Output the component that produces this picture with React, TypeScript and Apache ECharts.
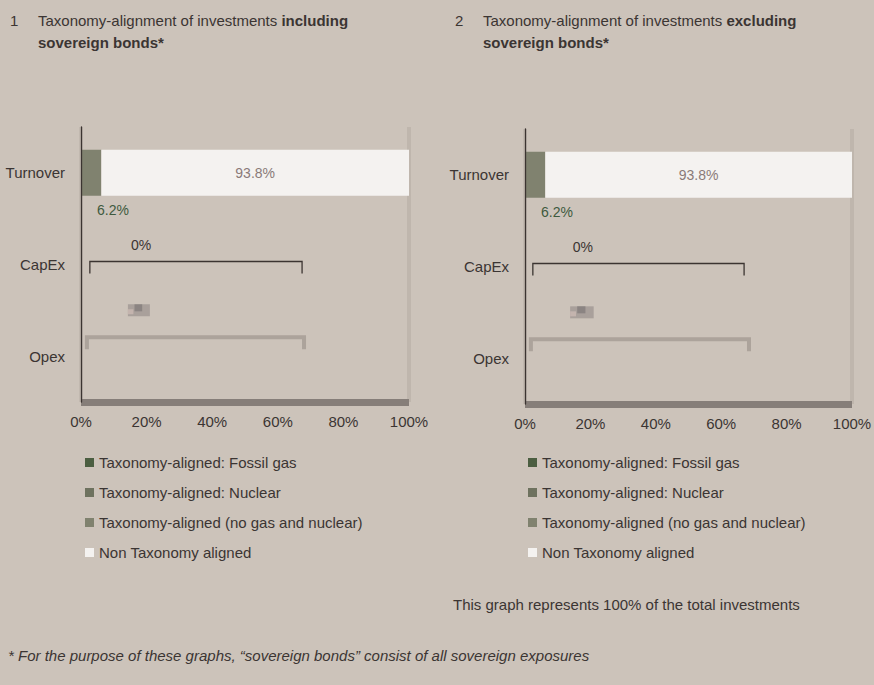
import React, { useEffect, useRef } from "react";
import * as echarts from "echarts";

const categories = ["Turnover", "CapEx", "Opex"];
const fossilGas = [0, null, null];
const nuclear = [0, null, null];
const alignedNoGasNuclear = [6.2, null, null];
const nonAligned = [93.8, null, null];
const xTicks = [0, 20, 40, 60, 80, 100];

// annotations: [start %, end %, category index, kind(0 capex bracket,1 opex bracket,2 blurred mark), label x %]
const annotationsLeft = [
  [2.7, 67.4, 1, 0, 18.3],
  [1.8, 68, 2, 1, 0],
  [14.3, 21, 1, 2, 0],
];
const annotationsRight = [
  [2.4, 67, 1, 0, 17.7],
  [1.8, 68.5, 2, 1, 0],
  [13.8, 21, 1, 2, 0],
];
const bracketLabel = "0%";

const seriesNames = [
  "Taxonomy-aligned: Fossil gas",
  "Taxonomy-aligned: Nuclear",
  "Taxonomy-aligned (no gas and nuclear)",
  "Non Taxonomy aligned",
];
const seriesColors = ["#4b5e41", "#6e725f", "#80826f", "#f4f2f0"];

const FONT = "'Liberation Sans', Arial, sans-serif";
const TXT = "#3b3533";
const FS = 15;

function buildSeries(idx: number) {
  const values = [fossilGas, nuclear, alignedNoGasNuclear, nonAligned];
  const bars = values.map((v, i) => ({
    type: "bar",
    name: seriesNames[i],
    stack: "total" + idx,
    xAxisIndex: idx,
    yAxisIndex: idx,
    barWidth: 46,
    data: v,
    itemStyle: { color: seriesColors[i] },
    label:
      i === 2
        ? {
            show: true,
            position: [16, "100%"],
            distance: 0,
            offset: [0, 7],
            formatter: (p: any) => (p.value ? p.value + "%" : ""),
            color: "#3e5a3e",
            fontSize: FS - 1,
            fontFamily: FONT,
          }
        : i === 3
        ? {
            show: true,
            position: "inside",
            formatter: (p: any) => (p.value ? p.value + "%" : ""),
            color: "#8a7a78",
            fontSize: FS - 1,
            fontFamily: FONT,
          }
        : { show: false },
  }));
  const custom = {
    type: "custom",
    xAxisIndex: idx,
    yAxisIndex: idx,
    z: 5,
    silent: true,
    encode: { x: [0, 1], y: 2 },
    data: idx === 0 ? annotationsLeft : annotationsRight,
    renderItem: (params: any, api: any) => {
      const kind = api.value(3);
      const cat = api.value(2);
      const p1 = api.coord([api.value(0), cat]);
      const p2 = api.coord([api.value(1), cat]);
      const band = api.size([0, 1])[1];
      if (kind === 0) {
        const y = p1[1] - 3;
        const lx = api.coord([api.value(4), cat])[0];
        return {
          type: "group",
          children: [
            {
              type: "polyline",
              shape: { points: [[p1[0], y + 12], [p1[0], y], [p2[0], y], [p2[0], y + 12]] },
              style: { stroke: "#3b3431", lineWidth: 1.3, fill: null },
            },
            {
              type: "text",
              x: lx,
              y: y - 17,
              style: {
                text: bracketLabel,
                fill: TXT,
                font: `${FS - 1}px ${FONT}`,
                align: "center",
                verticalAlign: "middle",
              },
            },
          ],
        };
      }
      if (kind === 1) {
        const y = p1[1] - 19;
        return {
          type: "polyline",
          shape: { points: [[p1[0], y + 12], [p1[0], y], [p2[0], y], [p2[0], y + 12]] },
          style: { stroke: "#aca39b", lineWidth: 4, fill: null },
        };
      }
      const y = p1[1] + band / 2;
      const w = p2[0] - p1[0];
      return {
        type: "group",
        children: [
          { type: "rect", shape: { x: p1[0], y: y - 6, width: w, height: 12 }, style: { fill: "#a9a09b" } },
          { type: "rect", shape: { x: p1[0] + w * 0.3, y: y - 6, width: w * 0.35, height: 7 }, style: { fill: "#8b8482" } },
          { type: "rect", shape: { x: p1[0], y: y - 1, width: w * 0.25, height: 5 }, style: { fill: "#c4b4ae" } },
        ],
      };
    },
  };
  return [...bars, custom];
}

function xAxis(idx: number) {
  return {
    type: "value",
    gridIndex: idx,
    min: 0,
    max: 100,
    interval: 20,
    axisLine: { show: true, lineStyle: { color: "#867e79", width: 7, cap: "butt" } },
    axisTick: { show: false },
    axisLabel: {
      formatter: (v: number) => (xTicks.includes(v) ? v + "%" : ""),
      color: TXT,
      fontSize: FS,
      fontFamily: FONT,
      margin: 12,
    },
    splitLine: {
      show: true,
      lineStyle: {
        color: ["#c1b8af", "rgba(0,0,0,0)", "rgba(0,0,0,0)", "rgba(0,0,0,0)", "rgba(0,0,0,0)", "#bfb6ad"],
        width: 4,
      },
    },
  };
}

function yAxis(idx: number) {
  return {
    type: "category",
    gridIndex: idx,
    data: categories,
    inverse: true,
    z: 10,
    axisLine: { show: true, lineStyle: { color: "#3b3431", width: 1.3 } },
    axisTick: { show: false },
    axisLabel: { color: TXT, fontSize: FS, fontFamily: FONT, margin: 16 },
  };
}

function legend(left: number) {
  return {
    orient: "vertical",
    left,
    top: 450,
    itemWidth: 9,
    itemHeight: 9,
    itemGap: 15,
    icon: "rect",
    selectedMode: false,
    data: seriesNames,
    textStyle: { color: TXT, fontSize: FS, fontFamily: FONT },
  };
}

function titleText(x: number, num: string, word: string) {
  return [
    {
      type: "text",
      x: x,
      y: 20,
      style: { text: num, fill: TXT, font: `${FS}px ${FONT}`, verticalAlign: "middle" },
    },
    {
      type: "text",
      x: x + 28,
      y: 20,
      style: {
        text: "Taxonomy-alignment of investments {b|" + word + "}",
        fill: TXT,
        font: `${FS}px ${FONT}`,
        verticalAlign: "middle",
        rich: { b: { fontWeight: "bold", fontSize: FS, fontFamily: FONT, fill: TXT } },
      },
    },
    {
      type: "text",
      x: x + 28,
      y: 42,
      style: {
        text: "sovereign bonds*",
        fill: TXT,
        font: `bold ${FS}px ${FONT}`,
        verticalAlign: "middle",
      },
    },
  ];
}

export default function App() {
  const ref = useRef<HTMLDivElement>(null);
  useEffect(() => {
    if (!ref.current) return;
    const chart = echarts.init(ref.current, null, { renderer: "svg" });
    chart.setOption({
      animation: false,
      backgroundColor: "#ccc3ba",
      textStyle: { fontFamily: FONT },
      grid: [
        { left: 81, top: 127, width: 328, height: 275, outerBoundsMode: "none", containLabel: false },
        { left: 525, top: 129, width: 327, height: 275, outerBoundsMode: "none", containLabel: false },
      ],
      xAxis: [xAxis(0), xAxis(1)],
      yAxis: [yAxis(0), yAxis(1)],
      legend: [legend(80), legend(523)],
      series: [...buildSeries(0), ...buildSeries(1)],
      graphic: [
        ...titleText(10, "1", "including"),
        ...titleText(455, "2", "excluding"),
        {
          type: "text",
          x: 453,
          y: 604,
          style: {
            text: "This graph represents 100% of the total investments",
            fill: TXT,
            font: `${FS}px ${FONT}`,
            verticalAlign: "middle",
          },
        },
        {
          type: "text",
          x: 8,
          y: 655,
          style: {
            text: "* For the purpose of these graphs, \u201csovereign bonds\u201d consist of all sovereign exposures",
            fill: TXT,
            font: `italic ${FS}px ${FONT}`,
            verticalAlign: "middle",
          },
        },
      ],
    });
    return () => chart.dispose();
  }, []);
  return (
    <div
      ref={ref}
      style={{ position: "fixed", left: 0, top: 0, width: 874, height: 685 }}
    />
  );
}
